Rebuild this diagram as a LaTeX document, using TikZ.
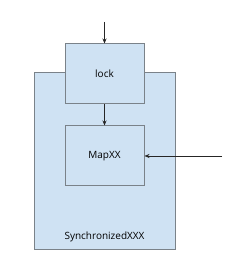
\documentclass[tikz,border=0pt]{standalone}
\usepackage{fontspec}
\setmainfont{Open Sans}
\usepackage{tikz}
\usetikzlibrary{positioning,arrows.meta}
\definecolor{boxfill}{HTML}{CFE2F3}
\definecolor{boxline}{HTML}{7A8289}

\begin{document}
\begin{tikzpicture}[
    x=1pt, y=1pt,
    block/.style={rectangle, draw=boxline, fill=boxfill, line width=1pt, minimum width=79pt, minimum height=60pt, inner sep=0pt, font=\fontsize{10}{12}\selectfont},
    outer/.style={rectangle, draw=boxline, fill=boxfill, line width=1pt, minimum width=141pt, minimum height=177pt, inner sep=0pt},
    arrow/.style={-{Stealth[length=5pt,width=4pt]}, line width=0.6pt, black!85}
]
    \useasboundingbox[fill=white] (0,0) rectangle (250,270);
    % ============ Outer container ============
    \node[outer] (sync) at (104.5,108.5) {};
    \node[font=\fontsize{10}{12}\selectfont] (synclabel) at (104.5,33) {SynchronizedXXX};

    % ============ Inner blocks ============
    \node[block] (lock) at (104.5,196) {lock};
    \node[block] (map) at (104.5,114) {MapXX};

    % ============ Connections ============
    \coordinate (topin) at (104.5,248);
    \coordinate (rightin) at (222,114);
    \draw[arrow] (topin) -- (lock.north);
    \draw[arrow] (lock.south) -- (map.north);
    \draw[arrow] (rightin) -- (map.east);
\end{tikzpicture}
\end{document}
